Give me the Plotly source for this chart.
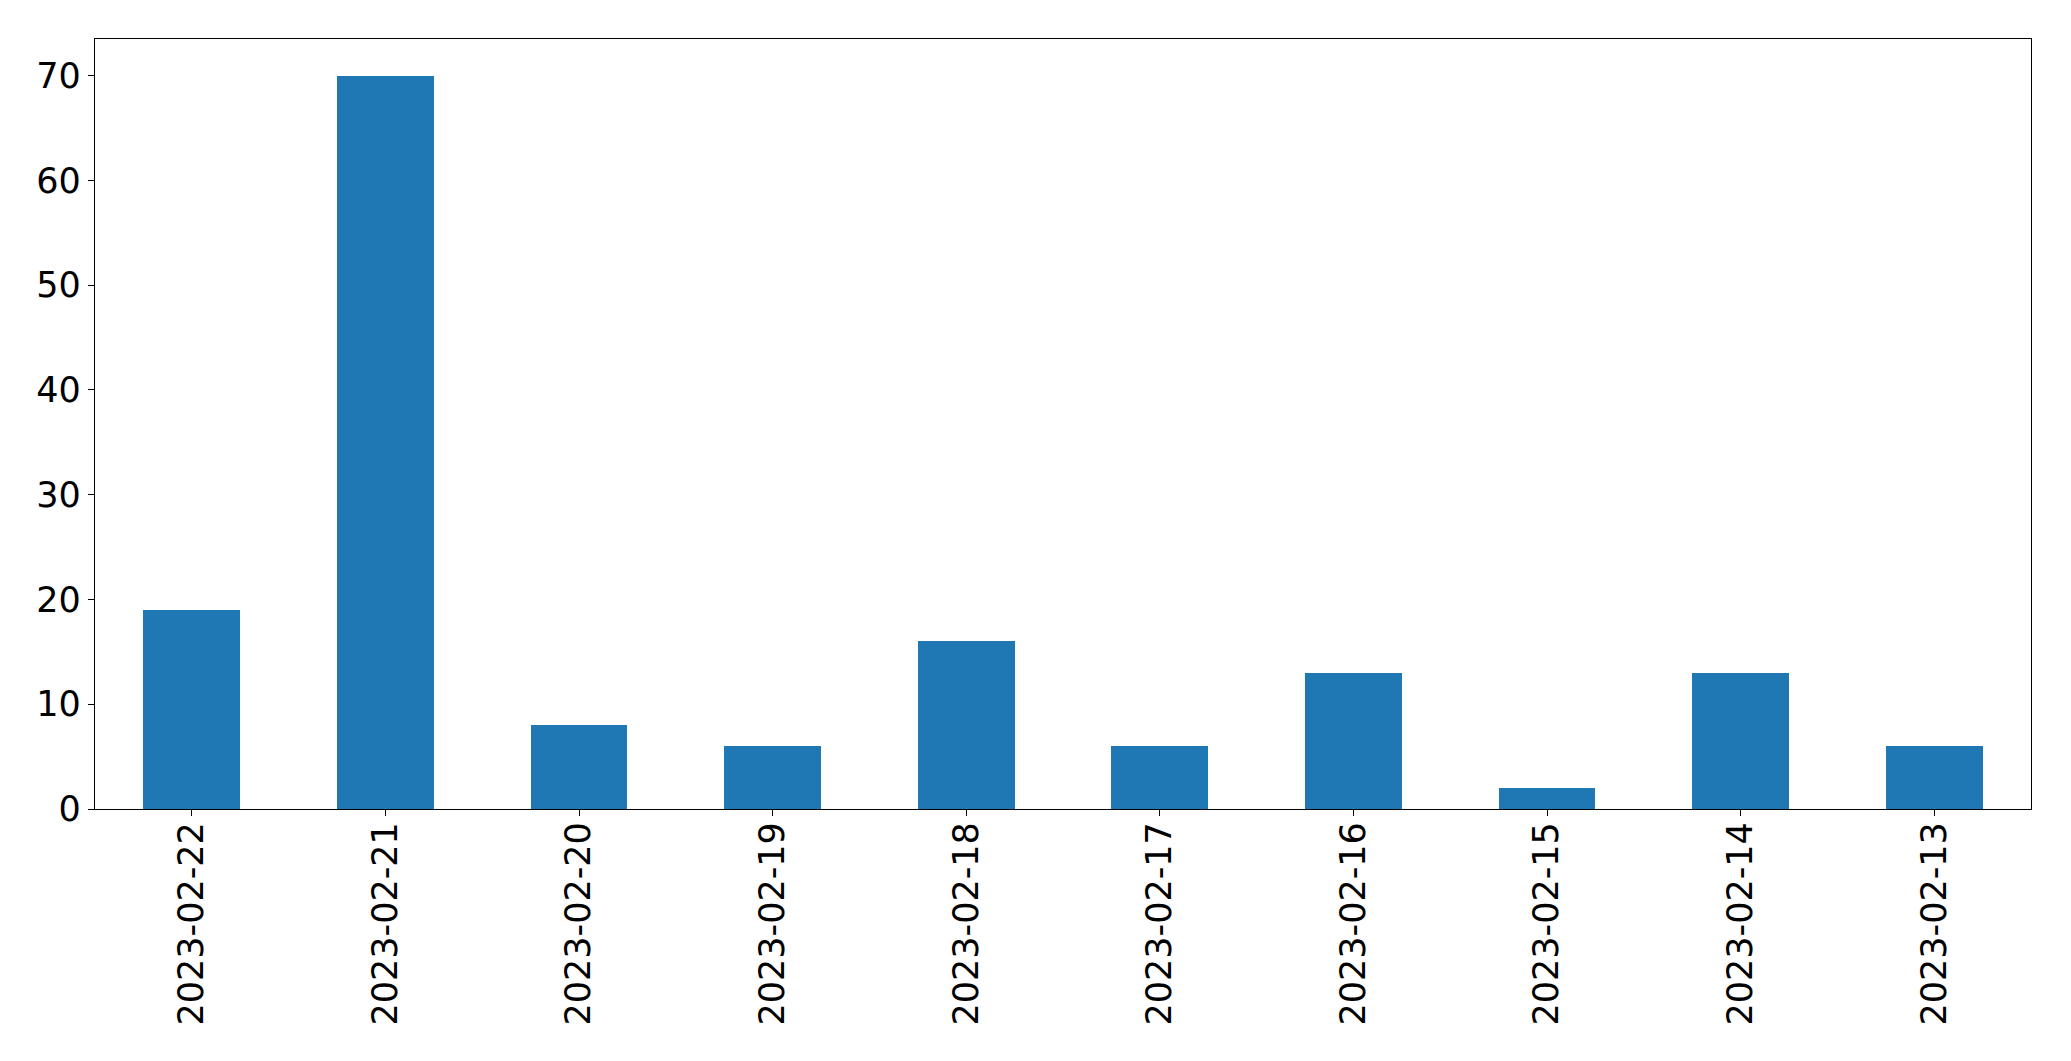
import plotly.graph_objects as go

dates = ["2023-02-22", "2023-02-21", "2023-02-20", "2023-02-19", "2023-02-18",
         "2023-02-17", "2023-02-16", "2023-02-15", "2023-02-14", "2023-02-13"]
counts = [19, 70, 8, 6, 16, 6, 13, 2, 13, 6]
y_ticks = [0, 10, 20, 30, 40, 50, 60, 70]

fig = go.Figure(go.Bar(x=dates, y=counts, width=0.5, marker=dict(color="#1f77b4", line=dict(width=0))))

axis_font = dict(family="DejaVu Sans", size=35, color="black")
# page body has an 8px default margin, so the figure is offset by 8px
fig.update_layout(
    width=2063, height=1053,
    margin=dict(l=87, r=40, t=31, b=252, pad=0),
    paper_bgcolor="white", plot_bgcolor="white",
    showlegend=False,
    bargap=0,
)
fig.update_xaxes(
    type="category", range=[-0.5, 9.5],
    showline=True, linecolor="black", linewidth=1.3, mirror=True,
    ticks="outside", ticklen=6, tickwidth=1.3, tickcolor="black",
    tickangle=-90, tickfont=axis_font, showgrid=False, zeroline=False,
    ticklabelstandoff=-8,
)
fig.update_yaxes(
    range=[0, 73.5], tickvals=y_ticks,
    showline=True, linecolor="black", linewidth=1.3, mirror=True,
    ticks="outside", ticklen=6, tickwidth=1.3, tickcolor="black",
    tickfont=axis_font, showgrid=False, zeroline=False,
)
fig.write_html("out.html")
